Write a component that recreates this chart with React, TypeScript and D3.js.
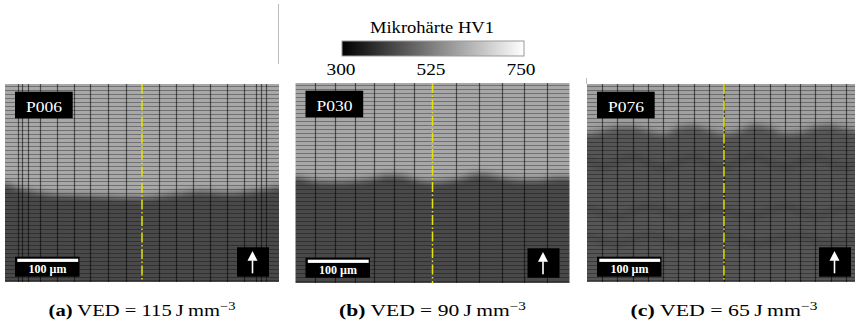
import React, { useEffect, useRef } from "react";
import * as d3 from "d3";

// specimen labels and captions
const panelNames = ["P006", "P030", "P076"];
const captionLetters = ["(a)", "(b)", "(c)"];
const vedValues = [115, 90, 65];

// hardness levels (HV1) above / below the transition
const upperHV = [596, 594, 584];
const lowerHV = [430, 428, 452];

// transition depth (µm from the top edge), sampled every 25 µm across the width
const profileX = [0, 25, 50, 75, 100, 125, 150, 175, 200, 225, 250, 275, 300, 325, 350, 375, 400, 425, 450];
const boundaryA = [162, 170, 175, 179, 180, 181, 182, 183, 184, 184, 182, 179, 176, 174, 176, 177, 174, 171, 167];
const boundaryB = [151, 156, 159, 159, 157, 154, 148, 149, 156, 159, 157, 152, 146, 149, 154, 156, 156, 152, 152];
const boundaryC = [80, 75, 69, 69, 75, 80, 70, 67, 74, 80, 75, 66, 70, 79, 77, 69, 66, 72, 75];

// darker melt pool lines inside P076
const poolHV = 426;
const poolLinesC = [
  [125, 135, 128, 120, 130, 138, 128, 120, 132, 138, 126, 120, 130, 136, 128, 120, 130, 136, 128],
  [205, 212, 218, 210, 202, 208, 216, 212, 204, 206, 214, 216, 208, 202, 210, 216, 210, 204, 208],
  [250, 258, 262, 256, 250, 254, 260, 258, 252, 250, 256, 262, 258, 252, 250, 256, 260, 256, 252],
];

// indentation columns (µm)
const columnsA = [21, 28, 38, 57, 85, 113, 140, 169, 198, 253, 281, 309, 337, 365, 393, 412, 421, 428];
const columnsB = [32, 65, 98, 129, 161, 194, 263, 302, 339, 376, 413];
const columnsC = [25, 50, 75, 100, 125, 150, 175, 200, 225, 250, 275, 300, 325, 350, 375, 400, 425];
const rowDepths = d3.range(4, 325, 6.5);

const colorbarTicks = [300, 525, 750];

const W = 855;
const H = 321;
const serif = "'Liberation Serif', 'DejaVu Serif', serif";

function App() {
  const ref = useRef<SVGSVGElement>(null);

  useEffect(() => {
    const svg = d3.select(ref.current);
    svg.selectAll("*").remove();
    const defs = svg.append("defs");

    const color = d3.scaleLinear<string>().domain([300, 750]).range(["#000000", "#ffffff"]).clamp(true);

    const blur = defs.append("filter").attr("id", "blur")
      .attr("filterUnits", "userSpaceOnUse")
      .attr("x", -50).attr("y", -50).attr("width", W + 100).attr("height", H + 100);
    blur.append("feGaussianBlur").attr("stdDeviation", 3.5);

    // colorbar
    const grad = defs.append("linearGradient").attr("id", "cbar");
    d3.range(300, 751, 50).forEach((v) => {
      grad.append("stop").attr("offset", (v - 300) / 450).attr("stop-color", color(v));
    });
    svg.append("rect").attr("x", 342).attr("y", 41).attr("width", 182).attr("height", 15)
      .attr("fill", "url(#cbar)").attr("stroke", "#999").attr("stroke-width", 1);
    svg.append("text").text("Mikrohärte HV1")
      .attr("x", 432).attr("y", 32.5).attr("text-anchor", "middle")
      .attr("font-family", serif).attr("font-size", 17)
      .attr("textLength", 124).attr("lengthAdjust", "spacingAndGlyphs");
    const cx = d3.scaleLinear().domain([300, 750]).range([341, 521]);
    svg.selectAll("text.tick").data(colorbarTicks).join("text").attr("class", "tick")
      .text((d) => d)
      .attr("x", (d) => cx(d)).attr("y", 75).attr("text-anchor", "middle")
      .attr("font-family", serif).attr("font-size", 17)
      .attr("textLength", 29).attr("lengthAdjust", "spacingAndGlyphs");

    // stray frame lines from the original figure
    svg.append("line").attr("x1", 278.5).attr("x2", 278.5).attr("y1", 4).attr("y2", 64)
      .attr("stroke", "#bbb").attr("stroke-width", 1);
    svg.append("line").attr("x1", 586.5).attr("x2", 586.5).attr("y1", 78).attr("y2", 84)
      .attr("stroke", "#bbb").attr("stroke-width", 1);

    const panelX = [5, 295.5, 587];
    const panelY = [84, 83, 84];
    const panelH = [198, 200, 198];
    const panelW = 274;
    const boundaries = [boundaryA, boundaryB, boundaryC];
    const columns = [columnsA, columnsB, columnsC];

    panelNames.forEach((name, i) => {
      const x0 = panelX[i];
      const y0 = panelY[i];
      const h = panelH[i];
      const bottom = y0 + h;
      const x = d3.scaleLinear().domain([0, 450]).range([x0, x0 + panelW]);
      const y = d3.scaleLinear().domain([0, 325]).range([y0, bottom]);
      const clipW = Math.min(panelW, W - x0);

      defs.append("clipPath").attr("id", "clip" + i)
        .append("rect").attr("x", x0).attr("y", y0).attr("width", clipW).attr("height", h);

      const g = svg.append("g").attr("clip-path", `url(#clip${i})`);
      const map = g.append("g").attr("filter", "url(#blur)");
      map.append("rect").attr("x", x0 - 30).attr("y", y0 - 30)
        .attr("width", panelW + 60).attr("height", h + 60).attr("fill", color(upperHV[i]));

      const pts: [number, number][] = profileX.map((d, k) => [d, boundaries[i][k]]);
      const padded: [number, number][] = [[-40, pts[0][1]], ...pts, [490, pts[pts.length - 1][1]]];
      const area = d3.area<[number, number]>()
        .x((d) => x(d[0])).y0(bottom + 30).y1((d) => y(d[1]))
        .curve(d3.curveMonotoneX);
      map.append("path").attr("d", area(padded)).attr("fill", color(lowerHV[i]));

      if (i === 2) {
        const line = d3.line<[number, number]>().x((d) => x(d[0])).y((d) => y(d[1])).curve(d3.curveMonotoneX);
        poolLinesC.forEach((pl) => {
          const p: [number, number][] = profileX.map((d, k) => [d, pl[k]]);
          map.append("path").attr("d", line([[-40, p[0][1]], ...p, [490, p[p.length - 1][1]]]))
            .attr("fill", "none").attr("stroke", color(poolHV)).attr("stroke-width", 6);
        });
      }

      // indentation grid
      g.selectAll("line.row").data(rowDepths).join("line").attr("class", "row")
        .attr("x1", x0).attr("x2", x0 + panelW)
        .attr("y1", (d) => Math.round(y(d)) + 0.5).attr("y2", (d) => Math.round(y(d)) + 0.5)
        .attr("stroke", "#000").attr("stroke-opacity", 0.33).attr("stroke-width", 1);
      g.selectAll("line.col").data(columns[i]).join("line").attr("class", "col")
        .attr("x1", (d) => Math.round(x(d)) + 0.5).attr("x2", (d) => Math.round(x(d)) + 0.5)
        .attr("y1", y0).attr("y2", bottom)
        .attr("stroke", "#000").attr("stroke-opacity", 0.55).attr("stroke-width", 1.2);

      // centre line
      g.append("line").attr("x1", x(225)).attr("x2", x(225)).attr("y1", y0).attr("y2", bottom)
        .attr("stroke", "#e4e400").attr("stroke-width", 1.5)
        .attr("stroke-dasharray", "10,2.5,1.5,2.5");

      // specimen label
      g.append("rect").attr("x", x0 + 10).attr("y", y0 + 7.7).attr("width", 57.7).attr("height", 26.6).attr("fill", "#000");
      g.append("text").text(name).attr("x", x0 + 39).attr("y", y0 + 28.3)
        .attr("text-anchor", "middle").attr("fill", "#fff")
        .attr("font-family", serif).attr("font-size", 15.5)
        .attr("textLength", 36).attr("lengthAdjust", "spacingAndGlyphs");

      // scale bar
      g.append("rect").attr("x", x0 + 10).attr("y", bottom - 25.3).attr("width", 64.5).attr("height", 20).attr("fill", "#000");
      g.append("rect").attr("x", x(0) + 12.3).attr("y", bottom - 23.3)
        .attr("width", x(100) - x(0)).attr("height", 3.2).attr("fill", "#fff");
      g.append("text").text("100 µm").attr("x", x0 + 42.5).attr("y", bottom - 9.4)
        .attr("text-anchor", "middle").attr("fill", "#fff")
        .attr("font-family", serif).attr("font-size", 12).attr("font-weight", "bold")
        .attr("textLength", 38).attr("lengthAdjust", "spacingAndGlyphs");

      // build direction arrow
      const ax = x0 + 232;
      const ay = bottom - 34.7;
      g.append("rect").attr("x", ax).attr("y", ay).attr("width", 32).attr("height", 29.4).attr("fill", "#000");
      g.append("path")
        .attr("d", `M${ax + 15.5},${ay + 3.7} L${ax + 20.5},${ay + 13.4} L${ax + 10.5},${ay + 13.4} Z`)
        .attr("fill", "#fff");
      g.append("rect").attr("x", ax + 14.7).attr("y", ay + 13).attr("width", 1.6).attr("height", 13).attr("fill", "#fff");

      // caption
      const cap = svg.append("text").attr("font-family", serif).attr("font-size", 17)
        .attr("text-anchor", "middle").attr("x", 0).attr("y", 0);
      cap.append("tspan").attr("font-weight", "bold").text(captionLetters[i]);
      cap.append("tspan").text(` VED = ${vedValues[i]}\u2009J\u2009mm`);
      cap.append("tspan").attr("font-size", 12).attr("dy", -6.5).text("\u22123");
      const bw = (cap.node() as SVGTextElement).getBBox().width;
      cap.attr("transform", `translate(${x0 + panelW / 2},316) scale(${187 / bw},1)`);
    });
  }, []);

  return (
    <svg ref={ref} width={W} height={H}
      style={{ position: "absolute", left: 0, top: 0, background: "#fff" }} />
  );
}

export default App;
